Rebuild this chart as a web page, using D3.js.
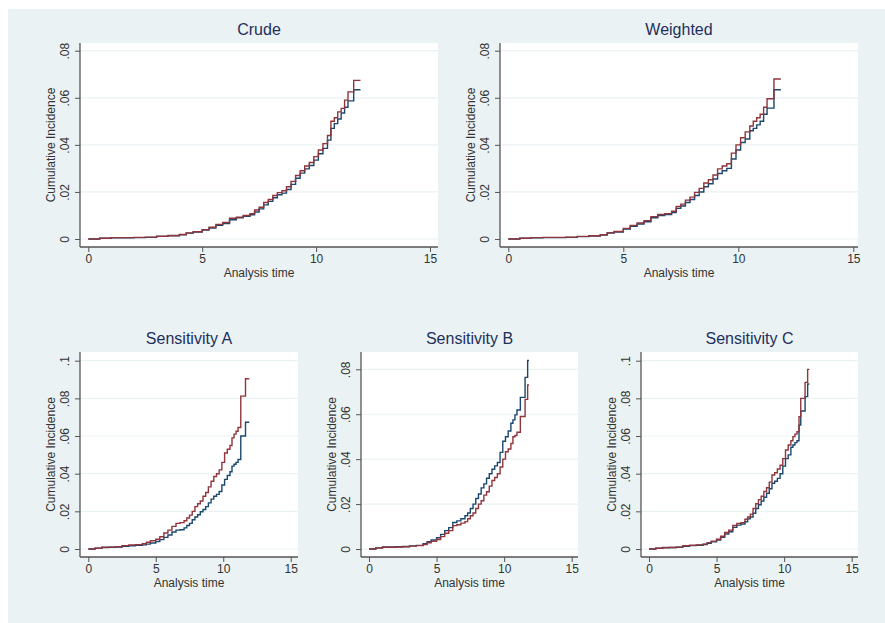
<!DOCTYPE html>
<html>
<head>
<meta charset="utf-8">
<script src="https://cdn.jsdelivr.net/npm/d3@7"></script>
<style>
  html, body { margin: 0; padding: 0; background: #ffffff; }
  svg { display: block; }
  text { font-family: "Liberation Sans", Arial, Helvetica, sans-serif; }
</style>
</head>
<body>
<svg id="chart" width="885" height="623"></svg>
<script>
// ---------------- DATA ----------------
const panelTitles = ["Crude", "Weighted", "Sensitivity A", "Sensitivity B", "Sensitivity C"];
const xTickValues = [0, 5, 10, 15];
const yTicksTop = [0, 0.02, 0.04, 0.06, 0.08];
const yTicksA = [0, 0.02, 0.04, 0.06, 0.08, 0.1];
const yTicksB = [0, 0.02, 0.04, 0.06, 0.08];
const yTicksC = [0, 0.02, 0.04, 0.06, 0.08, 0.1];
const xAxisTitle = "Analysis time";
const yAxisTitle = "Cumulative Incidence";

const crudeTime = [0, 0.5, 1, 1.5, 2, 2.5, 3, 3.5, 4, 4.3, 4.6, 5, 5.3, 5.6, 5.9, 6.2, 6.5, 6.8, 7.1, 7.3, 7.5, 7.7, 7.9, 8.1, 8.3, 8.5, 8.7, 8.9, 9.1, 9.3, 9.5, 9.7, 9.9, 10.1, 10.3, 10.5, 10.65, 10.8, 10.95, 11.1, 11.25, 11.4, 11.65, 11.95];
const crudeRed = [0, 0.0003, 0.0006, 0.0006, 0.0007, 0.0008, 0.0012, 0.0015, 0.0019, 0.0026, 0.0031, 0.0040, 0.0050, 0.0062, 0.0070, 0.0088, 0.0093, 0.0100, 0.0108, 0.0123, 0.0135, 0.0155, 0.0168, 0.0185, 0.0197, 0.0205, 0.0222, 0.0245, 0.0270, 0.0290, 0.0310, 0.0325, 0.0350, 0.0378, 0.0405, 0.0440, 0.0500, 0.0515, 0.0540, 0.0555, 0.0590, 0.0625, 0.0674, 0.0674];
const crudeBlue = [0, 0.0003, 0.0005, 0.0005, 0.0006, 0.0007, 0.0011, 0.0014, 0.0018, 0.0025, 0.0029, 0.0038, 0.0047, 0.0058, 0.0066, 0.0082, 0.0090, 0.0096, 0.0103, 0.0115, 0.0128, 0.0145, 0.0160, 0.0175, 0.0188, 0.0195, 0.0210, 0.0232, 0.0258, 0.0280, 0.0298, 0.0312, 0.0335, 0.0362, 0.0385, 0.0420, 0.0470, 0.0490, 0.0510, 0.0535, 0.0560, 0.0587, 0.0634, 0.0634];

const weightedTime = [0, 0.5, 1, 1.5, 2, 2.5, 3, 3.5, 4, 4.3, 4.6, 5, 5.3, 5.6, 5.9, 6.2, 6.5, 6.8, 7.1, 7.3, 7.5, 7.7, 7.9, 8.1, 8.3, 8.5, 8.7, 8.9, 9.1, 9.3, 9.5, 9.7, 9.9, 10.1, 10.3, 10.5, 10.65, 10.8, 10.95, 11.1, 11.25, 11.4, 11.55, 11.85];
const weightedRed = [0, 0.0003, 0.0006, 0.0007, 0.0007, 0.0008, 0.0011, 0.0014, 0.0018, 0.0027, 0.0032, 0.0045, 0.0058, 0.0068, 0.0078, 0.0095, 0.0104, 0.0108, 0.0118, 0.0138, 0.0148, 0.0165, 0.0178, 0.0198, 0.0215, 0.0238, 0.0252, 0.0272, 0.0298, 0.0310, 0.0320, 0.0365, 0.0400, 0.0430, 0.0455, 0.0480, 0.0500, 0.0515, 0.0530, 0.0560, 0.0596, 0.0596, 0.0680, 0.0680];
const weightedBlue = [0, 0.0003, 0.0005, 0.0006, 0.0006, 0.0007, 0.0010, 0.0013, 0.0017, 0.0025, 0.0030, 0.0042, 0.0054, 0.0064, 0.0073, 0.0090, 0.0100, 0.0104, 0.0112, 0.0130, 0.0140, 0.0155, 0.0168, 0.0185, 0.0200, 0.0222, 0.0235, 0.0255, 0.0278, 0.0290, 0.0300, 0.0340, 0.0378, 0.0410, 0.0425, 0.0460, 0.0470, 0.0485, 0.0500, 0.0530, 0.0556, 0.0556, 0.0634, 0.0634];

const sensATime = [0, 0.5, 1, 1.5, 2, 2.5, 3, 3.5, 4, 4.3, 4.6, 5, 5.3, 5.6, 5.9, 6.2, 6.5, 6.8, 7.1, 7.3, 7.5, 7.7, 7.9, 8.1, 8.3, 8.5, 8.7, 8.9, 9.1, 9.3, 9.5, 9.7, 9.9, 10.1, 10.3, 10.5, 10.65, 10.8, 10.95, 11.1, 11.3, 11.65, 11.93];
const sensARed = [0, 0.0004, 0.0009, 0.0010, 0.0012, 0.0018, 0.0021, 0.0023, 0.0028, 0.0036, 0.0044, 0.0052, 0.0065, 0.0085, 0.0100, 0.0120, 0.0136, 0.0140, 0.0150, 0.0165, 0.0180, 0.0200, 0.0225, 0.0240, 0.0255, 0.0280, 0.0300, 0.0330, 0.0360, 0.0385, 0.0400, 0.0420, 0.0460, 0.0510, 0.0530, 0.0550, 0.0590, 0.0610, 0.0625, 0.0645, 0.0812, 0.0904, 0.0904];
const sensABlue = [0, 0.0004, 0.0008, 0.0009, 0.0010, 0.0015, 0.0017, 0.0019, 0.0022, 0.0026, 0.0032, 0.0040, 0.0050, 0.0062, 0.0074, 0.0090, 0.0100, 0.0102, 0.0112, 0.0125, 0.0136, 0.0155, 0.0170, 0.0182, 0.0198, 0.0210, 0.0225, 0.0245, 0.0265, 0.0280, 0.0290, 0.0305, 0.0340, 0.0370, 0.0390, 0.0410, 0.0440, 0.0450, 0.0460, 0.0475, 0.0600, 0.0673, 0.0673];

const sensBTime = [0, 0.5, 1, 1.5, 2, 2.5, 3, 3.5, 4, 4.3, 4.6, 5, 5.3, 5.6, 5.9, 6.2, 6.5, 6.8, 7.1, 7.3, 7.5, 7.7, 7.9, 8.1, 8.3, 8.5, 8.7, 8.9, 9.1, 9.3, 9.5, 9.7, 9.9, 10.1, 10.3, 10.5, 10.65, 10.8, 10.95, 11.2, 11.55, 11.74, 11.84];
const sensBRed = [0, 0.0004, 0.0008, 0.0008, 0.0009, 0.0010, 0.0013, 0.0015, 0.0020, 0.0028, 0.0034, 0.0042, 0.0055, 0.0070, 0.0082, 0.0104, 0.0108, 0.0115, 0.0122, 0.0135, 0.0148, 0.0160, 0.0180, 0.0200, 0.0215, 0.0240, 0.0255, 0.0280, 0.0305, 0.0318, 0.0335, 0.0365, 0.0400, 0.0433, 0.0445, 0.0470, 0.0500, 0.0505, 0.0520, 0.0590, 0.0666, 0.0730, 0.0730];
const sensBBlue = [0, 0.0005, 0.0009, 0.0009, 0.0010, 0.0011, 0.0014, 0.0016, 0.0024, 0.0032, 0.0040, 0.0050, 0.0065, 0.0082, 0.0095, 0.0118, 0.0125, 0.0135, 0.0148, 0.0160, 0.0180, 0.0200, 0.0225, 0.0245, 0.0272, 0.0290, 0.0315, 0.0335, 0.0355, 0.0370, 0.0385, 0.0430, 0.0480, 0.0500, 0.0525, 0.0560, 0.0575, 0.0597, 0.0619, 0.0675, 0.0764, 0.0839, 0.0839];

const sensCTime = [0, 0.5, 1, 1.5, 2, 2.5, 3, 3.5, 4, 4.3, 4.6, 5, 5.3, 5.6, 5.9, 6.2, 6.5, 6.8, 7.1, 7.3, 7.5, 7.7, 7.9, 8.1, 8.3, 8.5, 8.7, 8.9, 9.1, 9.3, 9.5, 9.7, 9.9, 10.1, 10.3, 10.5, 10.65, 10.8, 10.95, 11.1, 11.23, 11.55, 11.74, 11.87];
const sensCRed = [0, 0.0004, 0.0008, 0.0008, 0.0010, 0.0017, 0.0020, 0.0022, 0.0026, 0.0034, 0.0042, 0.0052, 0.0068, 0.0088, 0.0100, 0.0125, 0.0136, 0.0140, 0.0158, 0.0170, 0.0185, 0.0215, 0.0240, 0.0262, 0.0280, 0.0305, 0.0325, 0.0355, 0.0393, 0.0405, 0.0425, 0.0445, 0.0480, 0.0526, 0.0552, 0.0575, 0.0597, 0.0610, 0.0623, 0.0703, 0.0800, 0.0885, 0.0954, 0.0954];
const sensCBlue = [0, 0.0004, 0.0007, 0.0008, 0.0009, 0.0015, 0.0018, 0.0020, 0.0024, 0.0030, 0.0038, 0.0048, 0.0062, 0.0080, 0.0092, 0.0115, 0.0127, 0.0133, 0.0145, 0.0160, 0.0170, 0.0190, 0.0215, 0.0235, 0.0255, 0.0275, 0.0296, 0.0320, 0.0349, 0.0360, 0.0375, 0.0400, 0.0440, 0.0480, 0.0500, 0.0540, 0.0552, 0.0565, 0.0575, 0.0658, 0.0733, 0.0809, 0.0876, 0.0876];

// ---------------- LAYOUT ----------------
const W = 885, H = 623;
const COLORS = { blue: "#1a476f", red: "#90353b", grid: "#eaf2f3", bg: "#eaf2f3", axis: "#555555", title: "#1e2f5e", text: "#333333" };

const panels = [
  { title: panelTitles[0], time: crudeTime, red: crudeRed, blue: crudeBlue, yTicks: yTicksTop,
    box: { x0: 80, x1: 438, y0: 43, y1: 247 }, xr: [88.3, 430], yDom: [0, 0.08], yr: [239, 50.7] },
  { title: panelTitles[1], time: weightedTime, red: weightedRed, blue: weightedBlue, yTicks: yTicksTop,
    box: { x0: 500, x1: 858, y0: 43, y1: 247 }, xr: [508.3, 853.3], yDom: [0, 0.08], yr: [239, 50.7] },
  { title: panelTitles[2], time: sensATime, red: sensARed, blue: sensABlue, yTicks: yTicksA,
    box: { x0: 80, x1: 298, y0: 352, y1: 557 }, xr: [88.3, 290.7], yDom: [0, 0.1], yr: [549, 360.7] },
  { title: panelTitles[3], time: sensBTime, red: sensBRed, blue: sensBBlue, yTicks: yTicksB,
    box: { x0: 361, x1: 578, y0: 352, y1: 557 }, xr: [369, 571.7], yDom: [0, 0.08], yr: [549, 369.3] },
  { title: panelTitles[4], time: sensCTime, red: sensCRed, blue: sensCBlue, yTicks: yTicksC,
    box: { x0: 641, x1: 858, y0: 352, y1: 557 }, xr: [649, 851.7], yDom: [0, 0.1], yr: [549, 360.7] }
];

const svg = d3.select("#chart");
svg.append("rect").attr("x", 0).attr("y", 0).attr("width", W).attr("height", H).attr("fill", "#ffffff");
svg.append("rect").attr("x", 8).attr("y", 9).attr("width", W - 8).attr("height", H - 9).attr("fill", COLORS.bg);

const fmtY = d => d === 0 ? "0" : d3.format(".2~f")(d).replace(/^0/, "");

panels.forEach(p => {
  const b = p.box;
  const x = d3.scaleLinear().domain([0, 15]).range(p.xr);
  const y = d3.scaleLinear().domain(p.yDom).range(p.yr);
  const g = svg.append("g");

  // plot region
  g.append("rect").attr("x", b.x0).attr("y", b.y0).attr("width", b.x1 - b.x0).attr("height", b.y1 - b.y0).attr("fill", "#ffffff");

  // gridlines
  g.selectAll("line.grid").data(p.yTicks).enter().append("line")
    .attr("x1", b.x0).attr("x2", b.x1)
    .attr("y1", d => y(d)).attr("y2", d => y(d))
    .attr("stroke", COLORS.grid).attr("stroke-width", 1.2);

  // curves
  const line = d3.line().x(d => x(d[0])).y(d => y(d[1])).curve(d3.curveStepAfter);
  [["blue", p.blue], ["red", p.red]].forEach(([c, vals]) => {
    const pts = p.time.map((t, i) => [t, vals[i]]);
    g.append("path").datum(pts).attr("d", line)
      .attr("fill", "none").attr("stroke", COLORS[c]).attr("stroke-width", 1.4)
      .attr("stroke-linejoin", "miter");
  });

  // y axis
  const yAxis = d3.axisLeft(y).tickValues(p.yTicks).tickSize(5).tickPadding(3).tickFormat(fmtY);
  const ya = g.append("g").attr("transform", `translate(${b.x0},0)`).call(yAxis);
  ya.select(".domain").attr("d", `M0,${b.y0}V${b.y1}`).attr("stroke", COLORS.axis).attr("stroke-width", 1.3);
  ya.selectAll(".tick line").attr("stroke", COLORS.axis).attr("stroke-width", 1);
  ya.selectAll(".tick text")
    .attr("x", 0).attr("dy", null)
    .attr("transform", "translate(-15,0) rotate(-90)")
    .attr("text-anchor", "middle")
    .attr("dominant-baseline", "central")
    .attr("fill", COLORS.text).style("font-size", "12px");

  // x axis
  const xAxis = d3.axisBottom(x).tickValues(xTickValues).tickSize(5).tickPadding(2).tickFormat(d3.format("d"));
  const xa = g.append("g").attr("transform", `translate(0,${b.y1})`).call(xAxis);
  xa.select(".domain").attr("d", `M${b.x0},0H${b.x1}`).attr("stroke", COLORS.axis).attr("stroke-width", 1.3);
  xa.selectAll(".tick line").attr("stroke", COLORS.axis).attr("stroke-width", 1);
  xa.selectAll(".tick text").attr("fill", COLORS.text).style("font-size", "12px");

  // titles
  const cx = (b.x0 + b.x1) / 2;
  g.append("text").attr("x", cx).attr("y", b.y0 - 8).attr("text-anchor", "middle")
    .attr("fill", COLORS.title).style("font-size", "16px").text(p.title);
  g.append("text").attr("x", cx).attr("y", b.y1 + 30).attr("text-anchor", "middle")
    .attr("fill", COLORS.text).style("font-size", "12px").text(xAxisTitle);
  g.append("text")
    .attr("transform", `translate(${b.x0 - 29},${(b.y0 + b.y1) / 2}) rotate(-90)`)
    .attr("text-anchor", "middle").attr("dominant-baseline", "central")
    .attr("fill", COLORS.text).style("font-size", "12px").text(yAxisTitle);
});
</script>
</body>
</html>
